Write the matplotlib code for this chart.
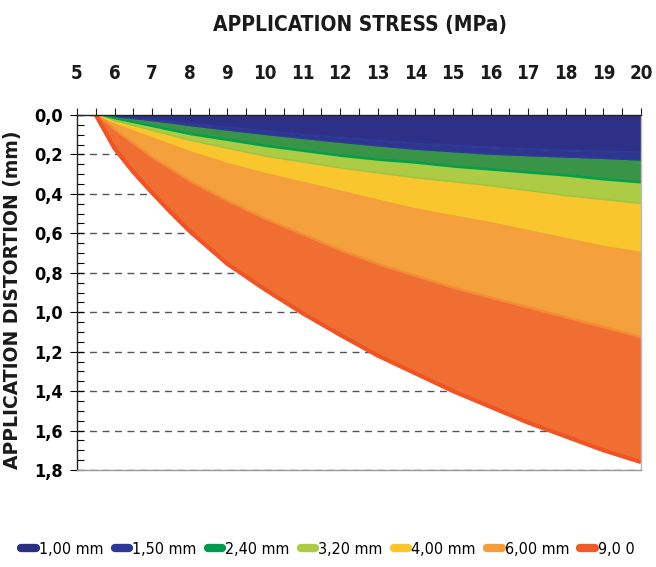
import matplotlib
matplotlib.use("Agg")
import matplotlib.pyplot as plt
from matplotlib import font_manager
from matplotlib.lines import Line2D
from matplotlib.ticker import MultipleLocator, FixedLocator

# narrow face for the numbers, like the original; fall back to Lato
narrow = None
for f in font_manager.fontManager.ttflist:
    if 'Condensed' in f.name or 'Narrow' in f.name or f.stretch in ('condensed', 'semi-condensed'):
        narrow = f.name
        break
if narrow is None:
    narrow = 'Lato'
plt.rcParams['font.family'] = [narrow, 'DejaVu Sans']
plt.rcParams['font.stretch'] = 'condensed'

# stress (MPa) and lower edge of each band, distortion (mm)
stress = [5.5, 6, 6.5, 7, 7.5, 8, 9, 10, 11, 12, 13, 14, 15, 16, 17, 18, 19, 20]
d_100 = [0, 0.008, 0.016, 0.024, 0.034, 0.045, 0.064, 0.082, 0.10, 0.115, 0.13, 0.145, 0.155, 0.165, 0.173, 0.18, 0.185, 0.19]
d_150 = [0, 0.01, 0.02, 0.03, 0.042, 0.055, 0.078, 0.10, 0.12, 0.14, 0.158, 0.175, 0.188, 0.20, 0.208, 0.215, 0.222, 0.23]
d_240 = [0, 0.02, 0.04, 0.06, 0.08, 0.10, 0.13, 0.16, 0.185, 0.21, 0.23, 0.245, 0.265, 0.28, 0.295, 0.31, 0.33, 0.345]
d_320 = [0, 0.03, 0.055, 0.08, 0.105, 0.13, 0.17, 0.21, 0.24, 0.27, 0.295, 0.32, 0.34, 0.36, 0.385, 0.41, 0.43, 0.45]
d_400 = [0, 0.04, 0.075, 0.11, 0.145, 0.18, 0.24, 0.29, 0.335, 0.38, 0.425, 0.47, 0.505, 0.54, 0.58, 0.62, 0.66, 0.69]
d_600 = [0, 0.08, 0.15, 0.22, 0.28, 0.34, 0.44, 0.53, 0.61, 0.69, 0.76, 0.82, 0.88, 0.93, 0.98, 1.03, 1.08, 1.13]
d_900 = [0, 0.17, 0.29, 0.395, 0.495, 0.59, 0.755, 0.885, 1.005, 1.115, 1.22, 1.31, 1.40, 1.48, 1.56, 1.63, 1.70, 1.76]

curves = [d_100, d_150, d_240, d_320, d_400, d_600, d_900]
labels = ['1,00 mm', '1,50 mm', '2,40 mm', '3,20 mm', '4,00 mm', '6,00 mm', '9,0 0']
fills = ['#2E3087', '#2E3591', '#3A9447', '#AECB45', '#F9C72D', '#F4A03D', '#F16E33']
edges = ['#2F3A9A', '#2E3A98', '#00A14B', '#9DC540', '#FBC92B', '#F38C36', '#EE5526']
legend_cols = ['#2B2E83', '#2E3796', '#009A4E', '#ACCB45', '#FBC52B', '#F49D3A', '#F05A28']

fig = plt.figure(figsize=(6.56, 5.67), dpi=100)
ax = fig.add_axes([77 / 656, 1 - 470 / 567, 564 / 656, 355 / 567])

prev = [0] * len(stress)
for i, cur in enumerate(curves):
    ax.fill_between(stress, prev, cur, color=fills[i], lw=0, zorder=2 + i * 0.1)
    ax.plot(stress, cur, color=edges[i], lw=3 if i in (2, 5, 6) else 1.5,
            solid_capstyle='butt', zorder=2.05 + i * 0.1)
    prev = cur

ax.set_xlim(5, 20)
ax.set_ylim(1.8, 0)

ax.xaxis.tick_top()
ax.xaxis.set_major_locator(MultipleLocator(1))
ax.xaxis.set_minor_locator(MultipleLocator(0.5))
ax.tick_params(axis='x', which='both', direction='out', length=5, width=0.8,
               labelsize=13.5, pad=18, colors='#222222')
ax.tick_params(axis='x', labelcolor='#1a1a1a')

yt = [0.0, 0.2, 0.4, 0.6, 0.8, 1.0, 1.2, 1.4, 1.6, 1.8]
ax.yaxis.set_major_locator(FixedLocator(yt))
ax.set_yticklabels([f'{v:.1f}'.replace('.', ',') for v in yt])
ax.yaxis.set_minor_locator(MultipleLocator(0.05))
ax.tick_params(axis='y', which='major', direction='inout', length=10, width=0.8,
               labelsize=13, pad=5)
ax.tick_params(axis='y', which='minor', direction='in', length=5, width=0.8)
for t in ax.get_xticklabels() + ax.get_yticklabels():
    t.set_fontweight('bold')

ax.yaxis.grid(True, which='major', linestyle=(0, (5, 4)), color='#555555', lw=1, zorder=1)
ax.set_axisbelow(True)

ax.spines['top'].set_color('#222222')
ax.spines['left'].set_color('#222222')
ax.spines['bottom'].set_color('#999999')
ax.spines['right'].set_color('#bbbbbb')
for s in ax.spines.values():
    s.set_linewidth(1)
    s.set_zorder(5)

fig.text(360 / 656, 1 - 25 / 567, 'APPLICATION STRESS (MPa)', ha='center', va='center',
         fontsize=15, fontweight='bold', color='#1a1a1a')
fig.text(13 / 656, 1 - 300 / 567, 'APPLICATION DISTORTION (mm)', ha='center', va='center',
         rotation=90, fontsize=13.5, fontweight='bold', family='DejaVu Sans',
         fontstretch='normal', color='#1a1a1a')

handles = [Line2D([0], [0], color=c, lw=6, solid_capstyle='round') for c in legend_cols]
fig.legend(handles, labels, loc='center', bbox_to_anchor=(0.5, 1 - 549 / 567), ncol=7,
           frameon=False, handlelength=0.9, handletextpad=0.2, columnspacing=0.7,
           fontsize=11.5)

fig.savefig('out.png', dpi=100)
